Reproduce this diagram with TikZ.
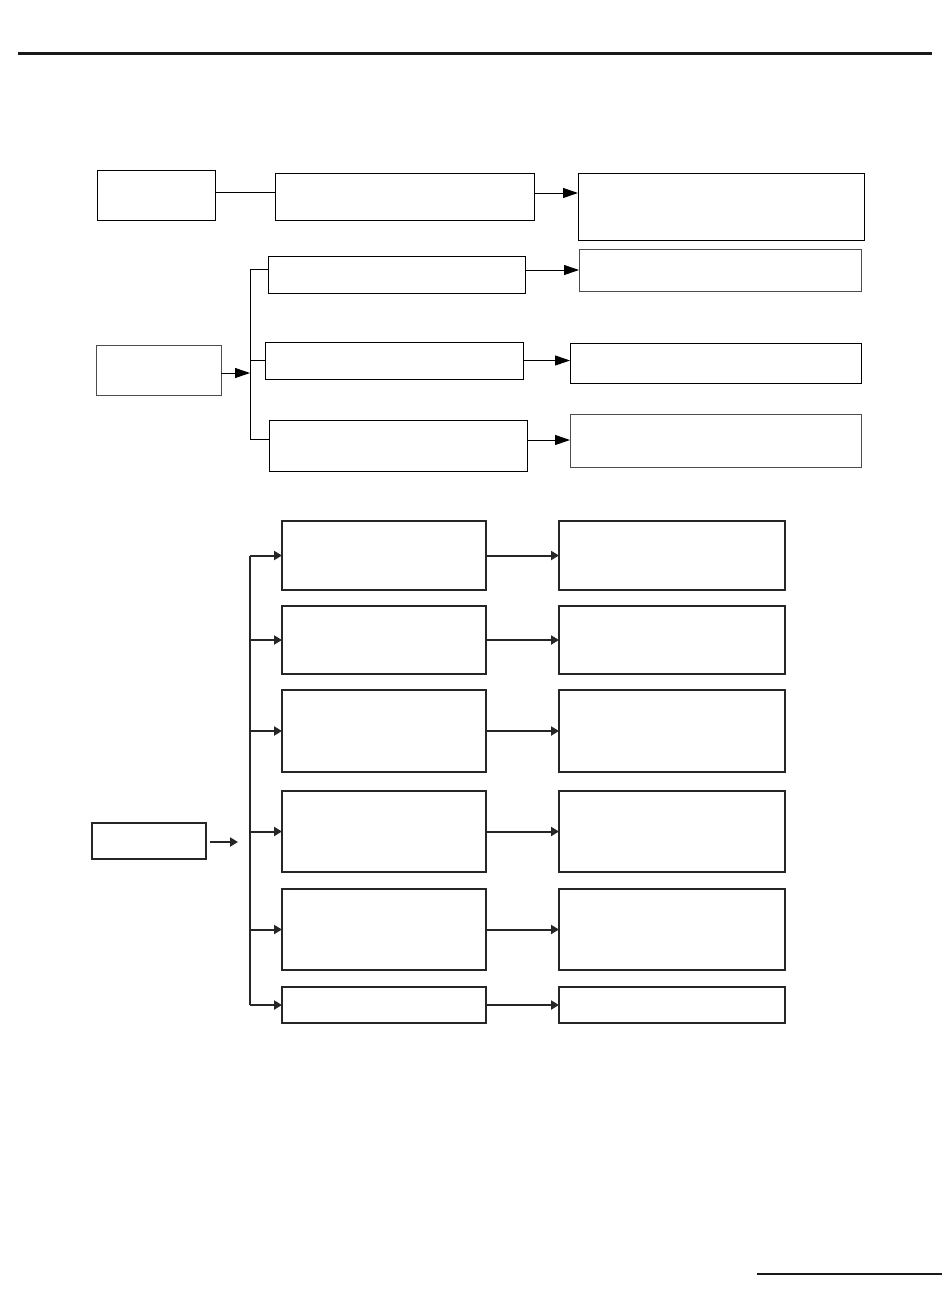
\documentclass[tikz,border=0pt]{standalone}
\usetikzlibrary{arrows.meta}
\begin{document}
\begin{tikzpicture}[x=1pt,y=-1pt,
  box/.style={draw=black,line width=1pt,inner sep=0pt,outer sep=0pt,anchor=north west,fill=white},
  gbox/.style={box,draw=black!70},
  bbox/.style={draw=black!85,line width=2pt,inner sep=0pt,outer sep=0pt,anchor=north west},
  conn/.style={line width=1pt,draw=black},
  arrT/.style={conn,-{Triangle[length=15pt,width=10pt]}},
  connB/.style={line width=2pt,draw=black!85},
  arrB/.style={connB,-{Triangle[length=8pt,width=9pt]}}]
\useasboundingbox (0,0) rectangle (950,1296);
% header / footer rules
\draw[line width=3pt,black!90] (18,53) -- (932,53);
\draw[line width=2pt,black!90] (757,1274) -- (942,1274);
% ---- top section ----
\node[box,minimum width=118pt,minimum height=50pt] (a1) at (97,170) {};
\node[box,minimum width=259pt,minimum height=47pt] (a2) at (275,173) {};
\node[box,minimum width=286pt,minimum height=67pt] (a3) at (578,173) {};
\draw[conn] ([yshift=3pt]a1.east) -- ([yshift=3pt]a1.east -| a2.west);
\coordinate (a2o) at ([yshift=3.5pt]a2.east);
\draw[arrT] (a2o) -- (a2o -| a3.west);
% ---- middle section ----
\node[gbox,minimum width=125pt,minimum height=50pt] (b0) at (96,345) {};
\node[box,minimum width=257pt,minimum height=37pt] (b1) at (268,256) {};
\node[box,minimum width=258pt,minimum height=37pt] (b2) at (265,342) {};
\node[box,minimum width=258pt,minimum height=51pt] (b3) at (269,420) {};
\node[gbox,minimum width=282pt,minimum height=42pt] (c1) at (579,249) {};
\node[box,minimum width=291pt,minimum height=40pt] (c2) at (570,343) {};
\node[gbox,minimum width=291pt,minimum height=53pt] (c3) at (570,414) {};
\coordinate (busx) at (250,0);
\coordinate (j1) at ([yshift=5.5pt]b1.west);
\coordinate (j3) at ([yshift=6.5pt]b3.west);
\draw[conn] (j1) -| (busx |- j3) -- (j3);
\draw[conn] (b2.west) -- (busx |- b2.west);
\coordinate (b0o) at ([yshift=-3pt]b0.east);
\draw[arrT] (b0o) -- (busx |- b0o);
\coordinate (b1o) at ([yshift=4.5pt]b1.east);
\draw[arrT] (b1o) -- (b1o -| c1.west);
\draw[arrT] (b2.east) -- (b2.east -| c2.west);
\coordinate (b3o) at ([yshift=5.5pt]b3.east);
\draw[arrT] (b3o) -- (b3o -| c3.west);
% ---- bottom section ----
\node[bbox,minimum width=114pt,minimum height=36pt] (d0) at (92,823) {};
\node[bbox,minimum width=204pt,minimum height=69pt] (e1) at (282,521) {};
\node[bbox,minimum width=204pt,minimum height=68pt] (e2) at (282,606) {};
\node[bbox,minimum width=204pt,minimum height=82pt] (e3) at (282,690) {};
\node[bbox,minimum width=204pt,minimum height=81pt] (e4) at (282,791) {};
\node[bbox,minimum width=204pt,minimum height=81pt] (e5) at (282,889) {};
\node[bbox,minimum width=204pt,minimum height=36pt] (e6) at (282,987) {};
\node[bbox,minimum width=226pt,minimum height=69pt] (f1) at (559,521) {};
\node[bbox,minimum width=226pt,minimum height=68pt] (f2) at (559,606) {};
\node[bbox,minimum width=226pt,minimum height=82pt] (f3) at (559,690) {};
\node[bbox,minimum width=226pt,minimum height=81pt] (f4) at (559,791) {};
\node[bbox,minimum width=226pt,minimum height=81pt] (f5) at (559,889) {};
\node[bbox,minimum width=226pt,minimum height=36pt] (f6) at (559,987) {};
\coordinate (busb) at (250,0);
\coordinate (dtip) at (238,842);
\draw[arrB] ([xshift=4pt,yshift=-1pt]d0.east) -- (dtip);
\draw[connB] (busb |- e1.west) -- (busb |- e6.west);
\foreach \i in {1,...,6}{
  \draw[arrB] (busb |- e\i.west) -- (e\i.west);
  \draw[arrB] (e\i.east) -- (f\i.west);
}
\end{tikzpicture}
\end{document}
